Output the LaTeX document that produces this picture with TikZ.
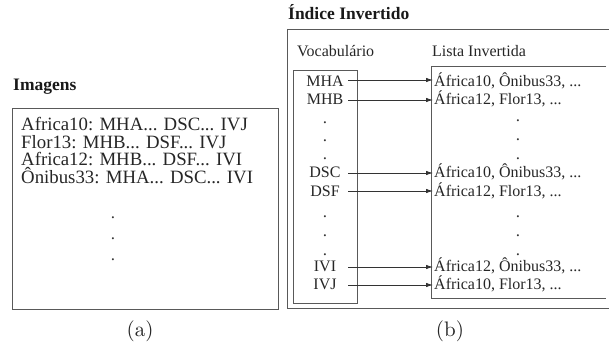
\documentclass[tikz,border=0pt]{standalone}
\usepackage{fontspec}
\usetikzlibrary{arrows.meta}
\newfontfamily\tms{Liberation Serif}
\newfontfamily\capfont[Extension=.otf]{lmroman10-regular}
\begin{document}
\begin{tikzpicture}[x=1pt,y=-1pt,
  frame/.style={draw=black!65,line width=0.9pt},
  big/.style={font=\tms\fontsize{18.8}{19}\selectfont,text=black!85,inner sep=0pt,anchor=base west},
  small/.style={font=\tms\fontsize{16}{17}\selectfont,text=black!85,inner sep=0pt,anchor=base west},
  vocab/.style={font=\tms\fontsize{16}{17}\selectfont,text=black!85,inner sep=0pt,anchor=base},
  ttl/.style={font=\tms\bfseries\fontsize{17.5}{18}\selectfont,text=black!90,inner sep=0pt,anchor=base west},
  captxt/.style={font=\capfont\fontsize{21}{24}\selectfont,text=black!85,inner sep=0pt},
  dotl/.style={font=\tms\fontsize{17}{17}\selectfont,text=black!80,inner sep=0pt,anchor=base},
  arr/.style={draw=black!80,line width=0.8pt,-{Latex[length=7pt,width=4.5pt]}}]
\useasboundingbox (0,0) rectangle (610,347);
% (a)
\node[ttl] (imgt) at (13,91) {Imagens};
\draw[frame] (12,108) rectangle (278,309);
\node[big] (a1) at (21,131) {Africa10: MHA... DSC... IVJ};
\node[big] (a2) at (21,148.5) {Flor13: MHB... DSF... IVJ};
\node[big] (a3) at (21,166) {Africa12: MHB... DSF... IVI};
\node[big] (a4) at (21,183.5) {Ônibus33: MHA... DSC... IVI};
\node[dotl] (ad1) at (113,219) {.};
\node[dotl] (ad2) at (113,240) {.};
\node[dotl] (ad3) at (113,261) {.};
\node[captxt] (capa) at (140,331) {(a)};
% (b)
\node[ttl] (indt) at (288,20) {Índice Invertido};
\draw[frame] (287,29) -- (609,29);
\draw[frame] (287,29) -- (287,308) -- (609,308);
\node[small] (voct) at (297,57) {Vocabulário};
\node[small] (listt) at (432,57) {Lista Invertida};
\draw[frame] (293,70) rectangle (357,303);
\draw[frame] (606,66) -- (431,66) -- (431,298) -- (606,298);
% vocabulary entries
\node[vocab] (v1) at (325,87) {MHA};
\node[vocab] (v2) at (325,105) {MHB};
\node[dotl] (vd1) at (325,124) {.};
\node[dotl] (vd2) at (325,142) {.};
\node[dotl] (vd3) at (325,160) {.};
\node[vocab] (v3) at (325,178) {DSC};
\node[vocab] (v4) at (325,197) {DSF};
\node[dotl] (vd4) at (325,218) {.};
\node[dotl] (vd5) at (325,237) {.};
\node[dotl] (vd6) at (325,256) {.};
\node[vocab] (v5) at (325,272) {IVI};
\node[vocab] (v6) at (325,290) {IVJ};
% inverted lists
\node[small] (l1) at (434,87) {África10, Ônibus33, ...};
\node[small] (l2) at (434,105) {África12, Flor13, ...};
\node[dotl] (ld1) at (518,122) {.};
\node[dotl] (ld2) at (518,141) {.};
\node[dotl] (ld3) at (518,160) {.};
\node[small] (l3) at (434,178) {África10, Ônibus33, ...};
\node[small] (l4) at (434,197) {África12, Flor13, ...};
\node[dotl] (ld4) at (518,218) {.};
\node[dotl] (ld5) at (518,237) {.};
\node[dotl] (ld6) at (518,256) {.};
\node[small] (l5) at (434,272) {África12, Ônibus33, ...};
\node[small] (l6) at (434,290) {África10, Flor13, ...};
% arrow endpoints
\coordinate (s1) at (348,80);  \coordinate (e1) at (433,80);
\coordinate (s2) at (348,100); \coordinate (e2) at (433,100);
\coordinate (s3) at (348,173); \coordinate (e3) at (433,173);
\coordinate (s4) at (348,191); \coordinate (e4) at (433,191);
\coordinate (s5) at (348,267); \coordinate (e5) at (433,267);
\coordinate (s6) at (348,285); \coordinate (e6) at (433,285);
\foreach \i in {1,...,6} { \draw[arr] (s\i) -- (e\i); }
\node[captxt] (capb) at (450,331) {(b)};
\end{tikzpicture}
\end{document}
